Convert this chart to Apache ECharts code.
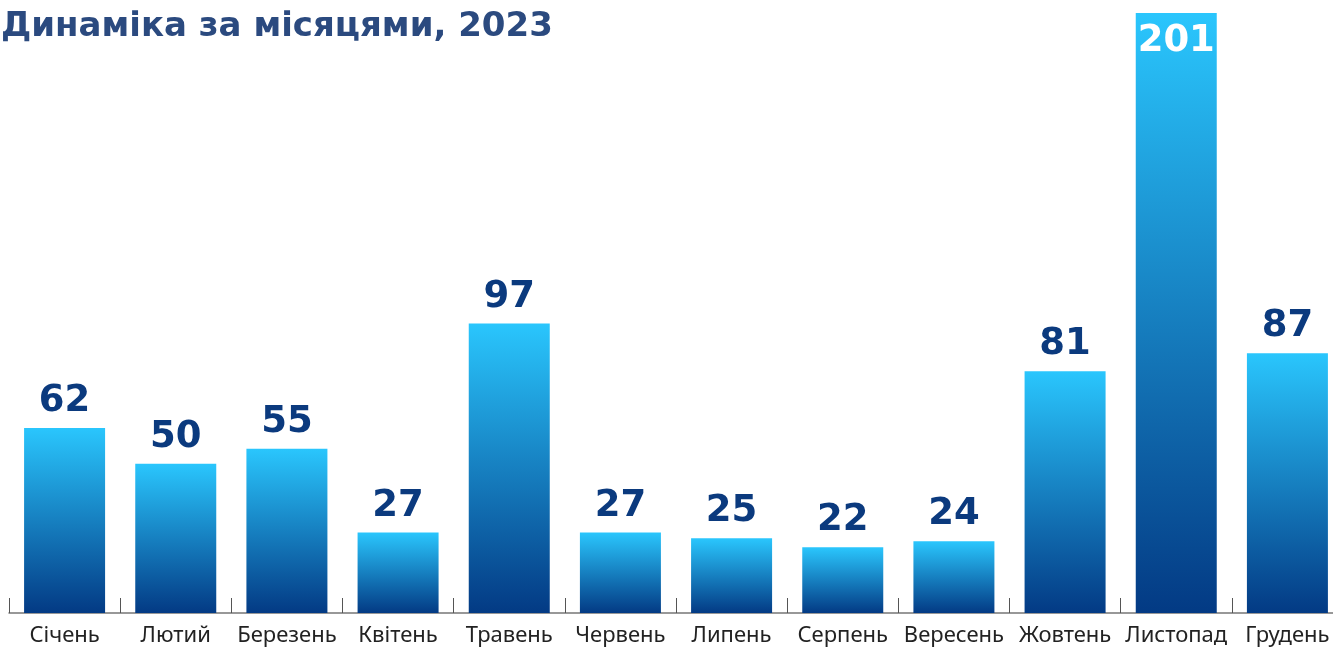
<!DOCTYPE html>
<html>
<head>
<meta charset="utf-8">
<script src="https://cdn.jsdelivr.net/npm/echarts@6/dist/echarts.min.js"></script>
<style>
  html, body { margin: 0; padding: 0; background: #fff; }
  #main { width: 1333px; height: 648px; }
</style>
</head>
<body>
<div id="main"></div>
<script>
var months = ['Січень', 'Лютий', 'Березень', 'Квітень', 'Травень', 'Червень', 'Липень', 'Серпень', 'Вересень', 'Жовтень', 'Листопад', 'Грудень'];
var counts = [62, 50, 55, 27, 97, 27, 25, 22, 24, 81, 201, 87];

var myChart = echarts.init(document.getElementById('main'));

var barColor = new echarts.graphic.LinearGradient(0, 0, 0, 1, [
    { offset: 0, color: '#2ac6fd' },
    { offset: 1, color: '#033a84' }
]);

var maxVal = Math.max.apply(null, counts);

option = {
    animation: false,
    title: {
        text: 'Динаміка за місяцями, 2023',
        left: -4,
        top: 5,
        textStyle: {
            fontFamily: 'DejaVu Sans',
            fontWeight: 'bold',
            fontSize: 34,
            color: '#2b4a7f'
        }
    },
    grid: {
        left: 9,
        right: -10,
        top: 13,
        bottom: 35,
        outerBoundsMode: 'none'
    },
    xAxis: {
        type: 'category',
        data: months,
        axisLine: { lineStyle: { color: '#777', width: 1.5 } },
        axisTick: { show: true, inside: true, length: 15, lineStyle: { color: '#555', width: 1 } },
        axisLabel: {
            interval: 0,
            margin: 12,
            fontFamily: 'Noto Sans',
            fontSize: 22,
            color: '#222'
        }
    },
    yAxis: {
        type: 'value',
        min: 0,
        max: maxVal,
        show: false,
        splitLine: { show: false }
    },
    series: [
        {
            type: 'bar',
            barWidth: 81,
            data: counts.map(function (v) {
                var item = { value: v };
                if (v === maxVal) {
                    item.label = { position: 'insideTop', color: '#fff', distance: 10 };
                }
                return item;
            }),
            itemStyle: { color: barColor },
            label: {
                show: true,
                position: 'top',
                distance: 8,
                fontFamily: 'DejaVu Sans',
                fontWeight: 'bold',
                fontSize: 37,
                color: '#0b3a7e'
            }
        }
    ]
};

myChart.setOption(option);
</script>
</body>
</html>
